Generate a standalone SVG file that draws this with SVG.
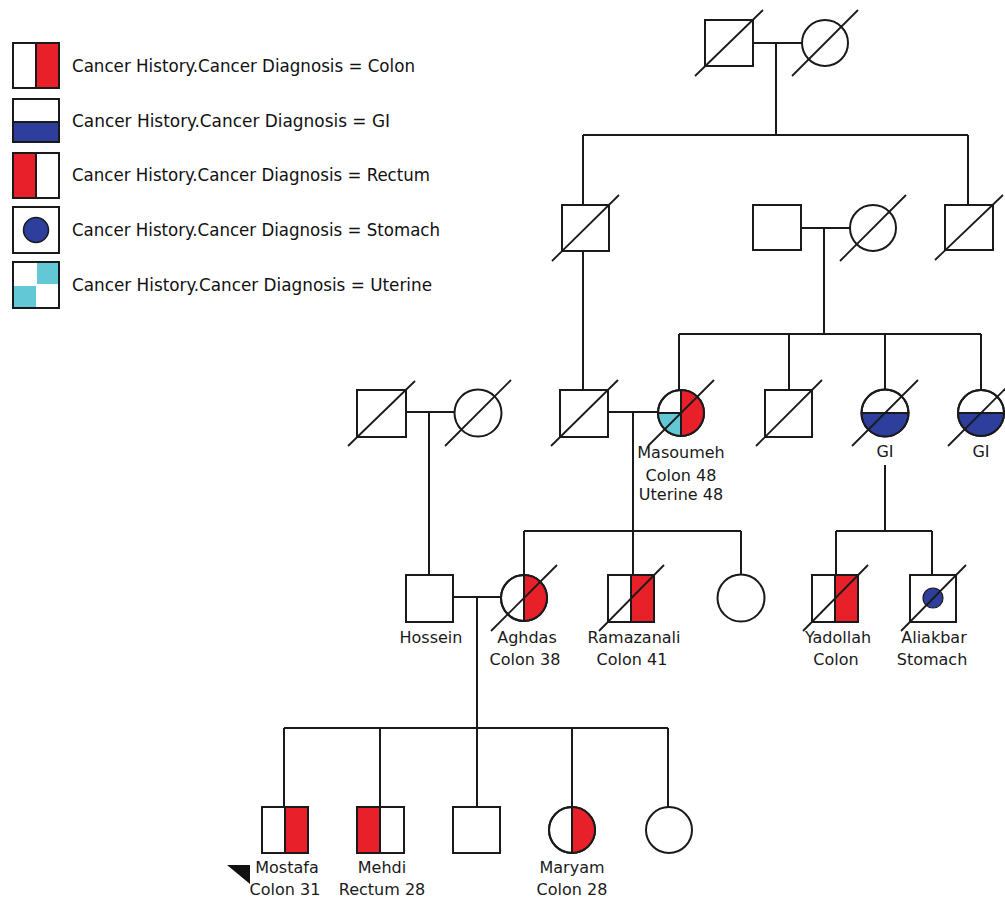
<svg xmlns="http://www.w3.org/2000/svg" width="1005" height="897" viewBox="0 0 1005 897">
<defs>
<style>
.sym{fill:#fff;stroke:#1a1a1a;stroke-width:2}
.ov{fill:none;stroke:#1a1a1a;stroke-width:2}
.ln{fill:none;stroke:#1a1a1a;stroke-width:2}
.sl{fill:none;stroke:#1a1a1a;stroke-width:1.8}
.red{fill:#e8202a;stroke:none}
.blue{fill:#2d3e9c;stroke:none}
.cyan{fill:#63c8d6;stroke:none}
.lg{font-family:"DejaVu Sans Condensed","DejaVu Sans","Liberation Sans",sans-serif;font-stretch:condensed;font-size:17.5px;fill:#111}
.lb{font-family:"DejaVu Sans","Liberation Sans",sans-serif;font-size:16px;fill:#1a1a1a;text-anchor:middle}
</style>
</defs>
<rect width="1005" height="897" fill="#fff"/>

<g id="legend">
  <g id="legend-colon">
    <rect class="sym" x="13" y="43" width="46" height="45"/>
    <rect class="red" x="36" y="44" width="22" height="43"/>
    <rect class="ov" x="13" y="43" width="46" height="45"/>
    <line class="ln" x1="36" y1="43" x2="36" y2="88"/>
    <text class="lg" x="72" y="72" textLength="343" lengthAdjust="spacingAndGlyphs">Cancer History.Cancer Diagnosis = Colon</text>
  </g>
  <g id="legend-gi">
    <rect class="sym" x="13" y="99" width="46" height="43"/>
    <rect class="blue" x="14" y="122" width="44" height="19"/>
    <rect class="ov" x="13" y="99" width="46" height="43"/>
    <line class="ln" x1="13" y1="122" x2="59" y2="122"/>
    <text class="lg" x="72" y="127" textLength="318" lengthAdjust="spacingAndGlyphs">Cancer History.Cancer Diagnosis = GI</text>
  </g>
  <g id="legend-rectum">
    <rect class="sym" x="13" y="153" width="46" height="45"/>
    <rect class="red" x="14" y="154" width="22" height="43"/>
    <rect class="ov" x="13" y="153" width="46" height="45"/>
    <line class="ln" x1="36" y1="153" x2="36" y2="198"/>
    <text class="lg" x="72" y="181" textLength="358" lengthAdjust="spacingAndGlyphs">Cancer History.Cancer Diagnosis = Rectum</text>
  </g>
  <g id="legend-stomach">
    <rect class="sym" x="13" y="207" width="46" height="46"/>
    <circle cx="36" cy="230" r="12.5" fill="#2d3e9c" stroke="#1a1a1a" stroke-width="1.5"/>
    <text class="lg" x="72" y="236" textLength="368" lengthAdjust="spacingAndGlyphs">Cancer History.Cancer Diagnosis = Stomach</text>
  </g>
  <g id="legend-uterine">
    <rect class="sym" x="13" y="262" width="46" height="46"/>
    <rect class="cyan" x="37" y="263" width="21" height="21"/>
    <rect class="cyan" x="14" y="286" width="22" height="21"/>
    <rect class="ov" x="13" y="262" width="46" height="46"/>
    <text class="lg" x="72" y="291" textLength="360" lengthAdjust="spacingAndGlyphs">Cancer History.Cancer Diagnosis = Uterine</text>
  </g>
</g>

<g id="connectors">
  <line class="ln" x1="753" y1="43" x2="802" y2="43"/>
  <line class="ln" x1="776" y1="43" x2="776" y2="135"/>
  <line class="ln" x1="583" y1="135" x2="968" y2="135"/>
  <line class="ln" x1="583" y1="135" x2="583" y2="205"/>
  <line class="ln" x1="968" y1="135" x2="968" y2="205"/>
  <line class="ln" x1="801" y1="228" x2="850" y2="228"/>
  <line class="ln" x1="824" y1="228" x2="824" y2="334"/>
  <line class="ln" x1="583" y1="251" x2="583" y2="390"/>
  <line class="ln" x1="679" y1="334" x2="981" y2="334"/>
  <line class="ln" x1="679" y1="334" x2="679" y2="390"/>
  <line class="ln" x1="789" y1="334" x2="789" y2="390"/>
  <line class="ln" x1="885" y1="334" x2="885" y2="390"/>
  <line class="ln" x1="981" y1="334" x2="981" y2="390"/>
  <line class="ln" x1="406" y1="412" x2="455" y2="412"/>
  <line class="ln" x1="429" y1="412" x2="429" y2="575"/>
  <line class="ln" x1="608" y1="412" x2="658" y2="412"/>
  <line class="ln" x1="633" y1="412" x2="633" y2="575"/>
  <line class="ln" x1="524" y1="531" x2="741" y2="531"/>
  <line class="ln" x1="524" y1="531" x2="524" y2="575"/>
  <line class="ln" x1="741" y1="531" x2="741" y2="575"/>
  <line class="ln" x1="885" y1="465" x2="885" y2="531"/>
  <line class="ln" x1="836" y1="531" x2="932" y2="531"/>
  <line class="ln" x1="836" y1="531" x2="836" y2="575"/>
  <line class="ln" x1="932" y1="531" x2="932" y2="575"/>
  <line class="ln" x1="453" y1="597" x2="501" y2="597"/>
  <line class="ln" x1="477" y1="597" x2="477" y2="728"/>
  <line class="ln" x1="284" y1="728" x2="668" y2="728"/>
  <line class="ln" x1="284" y1="728" x2="284" y2="807"/>
  <line class="ln" x1="380" y1="728" x2="380" y2="807"/>
  <line class="ln" x1="477" y1="728" x2="477" y2="807"/>
  <line class="ln" x1="572" y1="728" x2="572" y2="807"/>
  <line class="ln" x1="668" y1="728" x2="668" y2="807"/>
</g>

<g id="gen1-father">
  <rect class="sym" x="705" y="20" width="48" height="46"/>
  <line class="sl" x1="695" y1="76" x2="763" y2="10"/>
</g>
<g id="gen1-mother">
  <circle class="sym" cx="825" cy="43" r="23"/>
  <line class="sl" x1="792" y1="76" x2="858" y2="10"/>
</g>

<g id="gen2-son-left">
  <rect class="sym" x="562" y="205" width="47" height="46"/>
  <line class="sl" x1="552" y1="261" x2="619" y2="195"/>
</g>
<g id="gen2-husband">
  <rect class="sym" x="753" y="205" width="48" height="45"/>
</g>
<g id="gen2-daughter">
  <circle class="sym" cx="873" cy="228" r="23"/>
  <line class="sl" x1="840" y1="261" x2="906" y2="195"/>
</g>
<g id="gen2-son-right">
  <rect class="sym" x="945" y="205" width="48" height="45"/>
  <line class="sl" x1="935" y1="260" x2="1003" y2="195"/>
</g>

<g id="gen3-hossein-father">
  <rect class="sym" x="357" y="390" width="49" height="47"/>
  <line class="sl" x1="348" y1="446" x2="415" y2="381"/>
</g>
<g id="gen3-hossein-mother">
  <circle class="sym" cx="478" cy="413" r="23.5"/>
  <line class="sl" x1="445" y1="446" x2="511" y2="380"/>
</g>
<g id="gen3-masoumeh-husband">
  <rect class="sym" x="560" y="390" width="48" height="47"/>
  <line class="sl" x1="551" y1="446" x2="618" y2="380"/>
</g>
<g id="gen3-masoumeh">
  <circle class="sym" cx="681" cy="413" r="23"/>
  <path class="red" d="M681,390 A23,23 0 0 1 681,436 Z"/>
  <path class="cyan" d="M681,413 L658,413 A23,23 0 0 0 681,436 Z"/>
  <circle class="ov" cx="681" cy="413" r="23"/>
  <line class="ln" x1="681" y1="390" x2="681" y2="436"/>
  <line class="ln" x1="658" y1="413" x2="681" y2="413"/>
  <line class="sl" x1="648" y1="446" x2="714" y2="380"/>
  <text class="lb" x="681" y="458">Masoumeh</text>
  <text class="lb" x="681" y="481">Colon 48</text>
  <text class="lb" x="681" y="500">Uterine 48</text>
</g>
<g id="gen3-brother">
  <rect class="sym" x="765" y="390" width="47" height="47"/>
  <line class="sl" x1="756" y1="446" x2="822" y2="380"/>
</g>
<g id="gen3-gi-sister">
  <circle class="sym" cx="885" cy="413" r="23.5"/>
  <path class="blue" d="M861.5,413 A23.5,23.5 0 0 0 908.5,413 Z"/>
  <circle class="ov" cx="885" cy="413" r="23.5"/>
  <line class="ln" x1="861.5" y1="413" x2="908.5" y2="413"/>
  <line class="sl" x1="852" y1="446" x2="918" y2="380"/>
  <text class="lb" x="885" y="457">GI</text>
</g>
<g id="gen3-gi-sister-right">
  <circle class="sym" cx="981" cy="413" r="23"/>
  <path class="blue" d="M958,413 A23,23 0 0 0 1004,413 Z"/>
  <circle class="ov" cx="981" cy="413" r="23"/>
  <line class="ln" x1="958" y1="413" x2="1004" y2="413"/>
  <line class="sl" x1="948" y1="446" x2="1014" y2="380"/>
  <text class="lb" x="981" y="457">GI</text>
</g>

<g id="gen4-hossein">
  <rect class="sym" x="406" y="575" width="47" height="47"/>
  <text class="lb" x="431" y="643">Hossein</text>
</g>
<g id="gen4-aghdas">
  <circle class="sym" cx="524" cy="598" r="23"/>
  <path class="red" d="M524,575 A23,23 0 0 1 524,621 Z"/>
  <circle class="ov" cx="524" cy="598" r="23"/>
  <line class="ln" x1="524" y1="575" x2="524" y2="621"/>
  <line class="sl" x1="491" y1="631" x2="557" y2="565"/>
  <text class="lb" x="527" y="643">Aghdas</text>
  <text class="lb" x="525" y="665">Colon 38</text>
</g>
<g id="gen4-ramazanali">
  <rect class="sym" x="608" y="575" width="46" height="47"/>
  <rect class="red" x="631" y="576" width="22" height="45"/>
  <rect class="ov" x="608" y="575" width="46" height="47"/>
  <line class="ln" x1="631" y1="575" x2="631" y2="622"/>
  <line class="sl" x1="599" y1="631" x2="664" y2="565"/>
  <text class="lb" x="634" y="643">Ramazanali</text>
  <text class="lb" x="632" y="665">Colon 41</text>
</g>
<g id="gen4-sister">
  <circle class="sym" cx="741" cy="598" r="23.5"/>
</g>
<g id="gen4-yadollah">
  <rect class="sym" x="812" y="575" width="46" height="47"/>
  <rect class="red" x="835" y="576" width="22" height="45"/>
  <rect class="ov" x="812" y="575" width="46" height="47"/>
  <line class="ln" x1="835" y1="575" x2="835" y2="622"/>
  <line class="sl" x1="803" y1="631" x2="868" y2="565"/>
  <text class="lb" x="838" y="643">Yadollah</text>
  <text class="lb" x="836" y="665">Colon</text>
</g>
<g id="gen4-aliakbar">
  <rect class="sym" x="910" y="575" width="46" height="47"/>
  <circle cx="933" cy="598" r="10" fill="#2d3e9c" stroke="#1a1a1a" stroke-width="1.2"/>
  <line class="sl" x1="901" y1="631" x2="966" y2="565"/>
  <text class="lb" x="934" y="643">Aliakbar</text>
  <text class="lb" x="932" y="665">Stomach</text>
</g>

<g id="gen5-mostafa">
  <rect class="sym" x="262" y="807" width="46" height="46"/>
  <rect class="red" x="285" y="808" width="22" height="44"/>
  <rect class="ov" x="262" y="807" width="46" height="46"/>
  <line class="ln" x1="285" y1="807" x2="285" y2="853"/>
  <text class="lb" x="287" y="873">Mostafa</text>
  <text class="lb" x="285" y="895">Colon 31</text>
  <polygon points="227,865 250,865 250,884" fill="#111"/>
</g>
<g id="gen5-mehdi">
  <rect class="sym" x="357" y="807" width="47" height="46"/>
  <rect class="red" x="358" y="808" width="22" height="44"/>
  <rect class="ov" x="357" y="807" width="47" height="46"/>
  <line class="ln" x1="380" y1="807" x2="380" y2="853"/>
  <text class="lb" x="382" y="873">Mehdi</text>
  <text class="lb" x="382" y="895">Rectum 28</text>
</g>
<g id="gen5-brother">
  <rect class="sym" x="453" y="807" width="47" height="46"/>
</g>
<g id="gen5-maryam">
  <circle class="sym" cx="572" cy="830" r="23"/>
  <path class="red" d="M572,807 A23,23 0 0 1 572,853 Z"/>
  <circle class="ov" cx="572" cy="830" r="23"/>
  <line class="ln" x1="572" y1="807" x2="572" y2="853"/>
  <text class="lb" x="572" y="873">Maryam</text>
  <text class="lb" x="572" y="895">Colon 28</text>
</g>
<g id="gen5-sister">
  <circle class="sym" cx="669" cy="830" r="23"/>
</g>
</svg>
